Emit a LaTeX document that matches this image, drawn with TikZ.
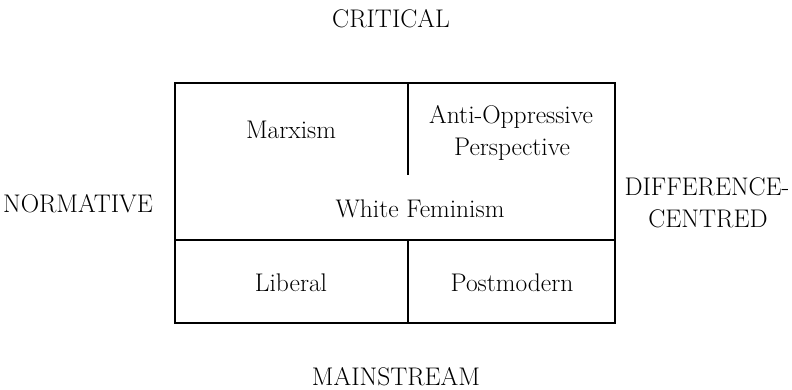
\documentclass[tikz,border=0pt]{standalone}
\usepackage{fontspec}
\begin{document}
\begin{tikzpicture}[x=1pt,y=-1pt,
  lbl/.style={anchor=base,inner sep=0pt,font=\fontsize{25.5}{30}\selectfont},
  frame/.style={line width=2pt}]
\useasboundingbox (0,0) rectangle (792,389);
\coordinate (tl) at (175,83);
\coordinate (br) at (615,323);
\coordinate (ml) at (175,240);
\coordinate (mr) at (615,240);
\coordinate (vt) at (408,83);
\coordinate (ve) at (408,175);
\coordinate (vm) at (408,240);
\coordinate (vb) at (408,323);
\draw[frame] (tl) rectangle (br);
\draw[frame] (ml) -- (mr);
\draw[frame] (vt) -- (ve);
\draw[frame] (vm) -- (vb);
\node[lbl] (crit) at (391,27) {CRITICAL};
\node[lbl] (norm) at (78,212) {NORMATIVE};
\node[lbl] (diff) at (707,195) {DIFFERENCE-};
\node[lbl] (cent) at (708,227) {CENTRED};
\node[lbl] (main) at (396,385) {MAINSTREAM};
\node[lbl] (marx) at (291,138) {Marxism};
\node[lbl] (anti) at (511,123) {Anti-Oppressive};
\node[lbl] (pers) at (512,155) {Perspective};
\node[lbl] (whit) at (420,217) {White Feminism};
\node[lbl] (libr) at (291,291) {Liberal};
\node[lbl] (post) at (512,291) {Postmodern};
\end{tikzpicture}
\end{document}
